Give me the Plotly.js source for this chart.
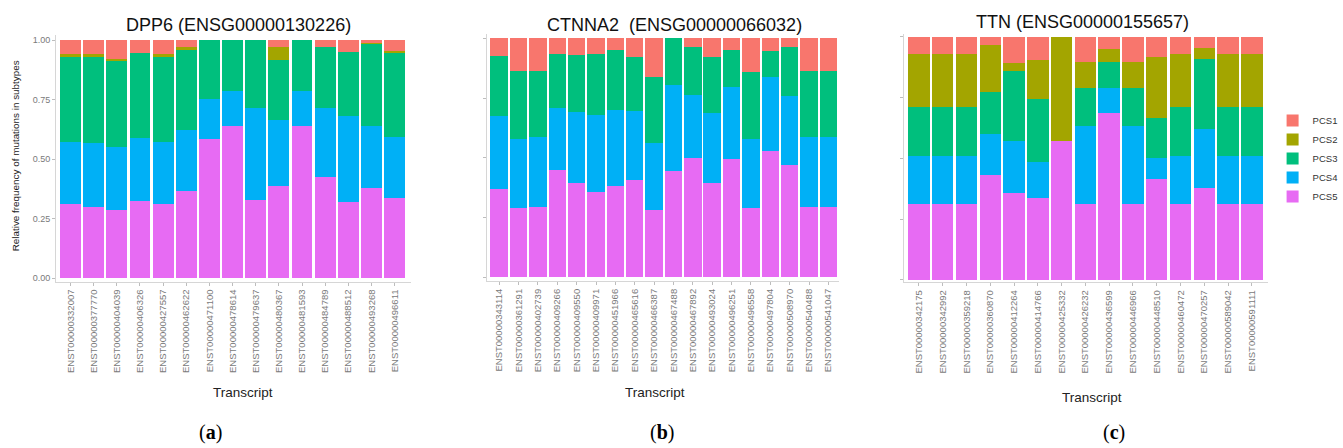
<!DOCTYPE html>
<html>
<head>
<meta charset="utf-8">
<script src="https://cdn.plot.ly/plotly-3.0.1.min.js"></script>
<style>html,body{margin:0;padding:0;background:#fff;}#chart{width:1343px;height:448px;}</style>
</head>
<body>
<div id="chart"></div>
<script>
// ---------- DATA ----------
const subtypes = ["PCS1", "PCS2", "PCS3", "PCS4", "PCS5"];
const subtypeColors = ["#F8766D", "#A3A500", "#00BF7D", "#00B0F6", "#E76BF3"];

// Panel (a) DPP6
const dppTitle = "DPP6 (ENSG00000130226)";
const dppTranscripts = ["ENST00000332007","ENST00000377770","ENST00000404039","ENST00000406326","ENST00000427557","ENST00000462622","ENST00000471100","ENST00000478614","ENST00000479637","ENST00000480367","ENST00000481593","ENST00000484789","ENST00000488512","ENST00000493268","ENST00000496611"];
const dppPCS1 = [0.059,0.059,0.077,0.053,0.059,0.029,0,0,0,0.029,0,0.029,0.048,0.013,0.045];
const dppPCS2 = [0.010,0.010,0.008,0,0.010,0.012,0,0,0,0.054,0,0,0,0.004,0.007];
const dppPCS3 = [0.357,0.363,0.363,0.357,0.358,0.334,0.246,0.215,0.284,0.250,0.215,0.256,0.268,0.344,0.355];
const dppPCS4 = [0.262,0.267,0.263,0.264,0.260,0.260,0.170,0.143,0.386,0.278,0.143,0.288,0.365,0.260,0.255];
const dppPCS5 = [0.312,0.301,0.289,0.326,0.313,0.365,0.584,0.642,0.330,0.389,0.642,0.427,0.319,0.379,0.338];

// Panel (b) CTNNA2
const ctnTitle = "CTNNA2  (ENSG00000066032)";
const ctnTranscripts = ["ENST00000343114","ENST00000361291","ENST00000402739","ENST00000409266","ENST00000409550","ENST00000409971","ENST00000451966","ENST00000465616","ENST00000466387","ENST00000467488","ENST00000467892","ENST00000493024","ENST00000496251","ENST00000496558","ENST00000497804","ENST00000508970","ENST00000540488","ENST00000541047"];
const ctnPCS1 = [0.075,0.138,0.135,0.064,0.070,0.067,0.050,0.078,0.160,0,0.035,0.079,0.050,0.139,0.054,0.036,0.136,0.136];
const ctnPCS2 = [0,0,0,0,0,0,0,0,0,0,0,0,0,0,0,0,0,0];
const ctnPCS3 = [0.248,0.284,0.280,0.226,0.238,0.253,0.252,0.227,0.276,0.196,0.203,0.234,0.153,0.283,0.109,0.204,0.278,0.278];
const ctnPCS4 = [0.308,0.288,0.291,0.260,0.299,0.322,0.318,0.287,0.283,0.358,0.263,0.291,0.303,0.288,0.309,0.291,0.292,0.292];
const ctnPCS5 = [0.369,0.290,0.294,0.450,0.393,0.358,0.380,0.408,0.281,0.446,0.499,0.396,0.494,0.290,0.528,0.469,0.294,0.294];

// Panel (c) TTN
const ttnTitle = "TTN (ENSG00000155657)";
const ttnTranscripts = ["ENST00000342175","ENST00000342992","ENST00000359218","ENST00000360870","ENST00000412264","ENST00000414766","ENST00000425332","ENST00000426232","ENST00000436599","ENST00000446966","ENST00000448510","ENST00000460472","ENST00000470257","ENST00000589042","ENST00000591111"];
const ttnPCS1 = [0.071,0.071,0.071,0.036,0.107,0.096,0,0.105,0.052,0.105,0.082,0.071,0.045,0.071,0.071];
const ttnPCS2 = [0.219,0.219,0.219,0.191,0.034,0.162,0.430,0.105,0.052,0.105,0.251,0.219,0.048,0.219,0.219];
const ttnPCS3 = [0.199,0.199,0.199,0.173,0.286,0.258,0,0.158,0.106,0.158,0.167,0.199,0.288,0.199,0.199];
const ttnPCS4 = [0.199,0.199,0.199,0.167,0.217,0.146,0,0.320,0.105,0.320,0.085,0.199,0.240,0.199,0.199];
const ttnPCS5 = [0.312,0.312,0.312,0.433,0.356,0.338,0.570,0.312,0.685,0.312,0.415,0.312,0.379,0.312,0.312];

const yTickVals = [0, 0.25, 0.5, 0.75, 1];
const yTickText = ["0.00", "0.25", "0.50", "0.75", "1.00"];

// ---------- BUILD ----------
const panels = [
  {cats: dppTranscripts, series: [dppPCS1, dppPCS2, dppPCS3, dppPCS4, dppPCS5], xa: "x", ya: "y", legend: false},
  {cats: ctnTranscripts, series: [ctnPCS1, ctnPCS2, ctnPCS3, ctnPCS4, ctnPCS5], xa: "x2", ya: "y2", legend: false},
  {cats: ttnTranscripts, series: [ttnPCS1, ttnPCS2, ttnPCS3, ttnPCS4, ttnPCS5], xa: "x3", ya: "y3", legend: true}
];

const traces = [];
panels.forEach(p => {
  // stack from bottom (PCS5) to top (PCS1)
  for (let i = subtypes.length - 1; i >= 0; i--) {
    traces.push({
      type: "bar",
      name: subtypes[i],
      x: p.cats,
      y: p.series[i],
      xaxis: p.xa,
      yaxis: p.ya,
      marker: {color: subtypeColors[i], line: {width: 0}},
      showlegend: p.legend,
      legendgroup: subtypes[i],
      hoverinfo: "x+y+name"
    });
  }
});

const W = 1343, H = 448;
const px = v => v / W;
const py = v => 1 - v / H;

const tickFont = {family: "Liberation Sans, Arial, sans-serif", size: 9.5, color: "#7a7a7a"};
const lineCol = "#d6d6d6";

function xAxis(dom, rng) {
  return {
    domain: dom, range: rng, type: "category", automargin: false,
    showline: true, linecolor: lineCol, linewidth: 1, showgrid: false, zeroline: false,
    ticks: "outside", ticklen: 3, tickcolor: "#bdbdbd", tickwidth: 1,
    tickangle: -90, tickfont: tickFont, fixedrange: true
  };
}
function yAxis(dom, rng, labels, anchor) {
  return {
    domain: dom, range: rng, automargin: false, anchor: anchor,
    showline: true, linecolor: lineCol, linewidth: 1, showgrid: false, zeroline: false,
    ticks: "outside", ticklen: 3, tickcolor: "#bdbdbd", tickwidth: 1,
    tickmode: "array", tickvals: yTickVals, ticktext: yTickText,
    showticklabels: labels, tickfont: {family: "Liberation Sans, Arial, sans-serif", size: 9, color: "#7a7a7a"},
    fixedrange: true
  };
}

const titleFont = {family: "Liberation Sans, Arial, sans-serif", size: 18, color: "#111"};
const axTitleFont = {family: "Liberation Sans, Arial, sans-serif", size: 13.5, color: "#222"};
const labFont = {family: "Liberation Serif, DejaVu Serif, serif", size: 20, color: "#000"};

function ann(text, x, y, font, extra) {
  return Object.assign({text: text, x: px(x), y: py(y), xref: "paper", yref: "paper",
    showarrow: false, xanchor: "center", yanchor: "middle", font: font}, extra || {});
}

const layout = {
  width: W, height: H,
  margin: {l: 0, r: 0, t: 0, b: 0},
  paper_bgcolor: "#fff", plot_bgcolor: "#fff",
  barmode: "stack", bargap: 0.1,
  showlegend: true,
  xaxis: xAxis([px(56.7), px(415)], [-0.62, 14.69]),
  yaxis: yAxis([py(281.7), py(35)], [-0.0143, 1.0223], true, "x"),
  xaxis2: Object.assign(xAxis([px(491.7), px(848.3)], [-0.65, 17.57]), {anchor: "y2"}),
  yaxis2: yAxis([py(281), py(34)], [-0.0155, 1.018], false, "x2"),
  xaxis3: Object.assign(xAxis([px(913.5), px(1281.7)], [-0.625, 14.69]), {anchor: "y3"}),
  yaxis3: yAxis([py(282.3), py(34)], [-0.0095, 1.011], false, "x3"),
  legend: {
    x: px(1286), y: py(106), xanchor: "left", yanchor: "top",
    traceorder: "reversed", font: {family: "Liberation Sans, Arial, sans-serif", size: 9.5, color: "#333"},
    bgcolor: "rgba(0,0,0,0)", itemclick: false, itemdoubleclick: false, tracegroupgap: 0
  },
  annotations: [
    ann(dppTitle, 241, 25, titleFont),
    ann(ctnTitle, 682, 25, titleFont),
    ann(ttnTitle, 1094, 22, titleFont),
    ann("Relative frequency of mutations in subtypes", 15.5, 156,
        {family: "Liberation Sans, Arial, sans-serif", size: 9.9, color: "#222"}, {textangle: -90}),
    ann("Transcript", 246, 392, axTitleFont),
    ann("Transcript", 662, 392, axTitleFont),
    ann("Transcript", 1103, 397, axTitleFont),
    ann("(<b>a</b>)", 213, 432, labFont),
    ann("(<b>b</b>)", 669, 432, labFont),
    ann("(<b>c</b>)", 1126, 432, labFont)
  ]
};

Plotly.newPlot("chart", traces, layout, {staticPlot: true, displayModeBar: false});
</script>
</body>
</html>
